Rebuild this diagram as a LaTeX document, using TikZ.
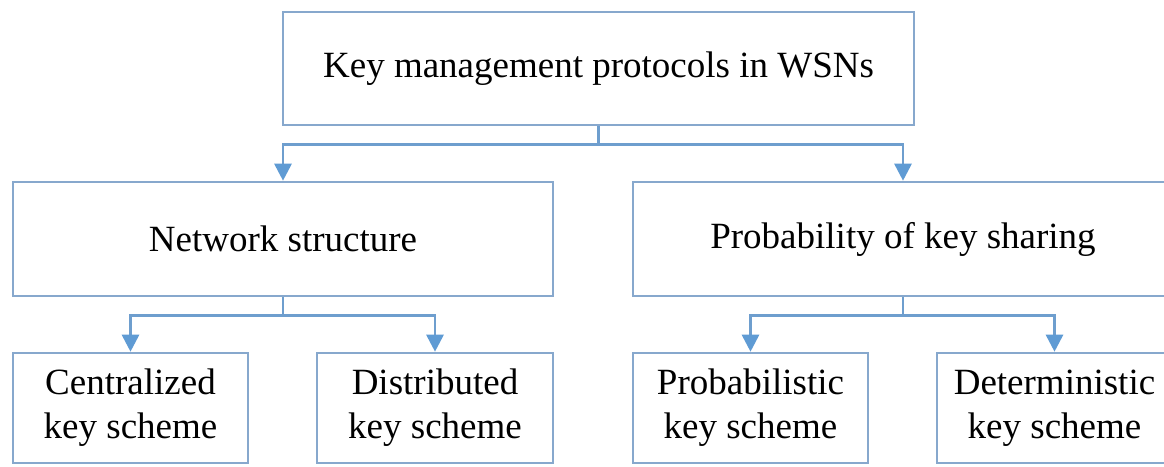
\documentclass[tikz,border=0pt]{standalone}
\usepackage{fontspec}
\setmainfont{Liberation Serif}
\usetikzlibrary{arrows.meta}
\definecolor{boxline}{RGB}{135,168,205}
\definecolor{connline}{RGB}{110,158,206}
\definecolor{tipcol}{RGB}{95,155,212}
\tikzset{
  box/.style={draw=boxline, line width=2.6pt, fill=white, inner sep=0pt,
    align=center, font=\fontsize{37}{44}\selectfont},
  conn/.style={draw=connline, line width=2.8pt,
    -{Triangle[width=17pt,length=17pt,color=tipcol]}},
}
\begin{document}
\begin{tikzpicture}[x=1pt,y=-1pt]
\useasboundingbox (0,0) rectangle (1164,466);
\fill[white] (0,0) rectangle (1164,466);
\clip (0,0) rectangle (1164,466);
\node[box, minimum width=631pt, minimum height=113pt] (top) at (598.5,68.5) {Key management protocols in WSNs};
\node[box, minimum width=540pt, minimum height=114pt] (ns) at (283,239) {Network structure};
\node[box, minimum width=540pt, minimum height=114pt] (pks) at (903,239) {Probability of key sharing};
\node[box, minimum width=235pt, minimum height=110pt] (cks) at (130.5,408) {Centralized\\key scheme};
\node[box, minimum width=236pt, minimum height=110pt] (dks) at (435,408) {Distributed\\key scheme};
\node[box, minimum width=235pt, minimum height=110pt] (pbk) at (750.5,408) {Probabilistic\\key scheme};
\node[box, minimum width=235pt, minimum height=110pt] (dtk) at (1054.5,408) {Deterministic\\key scheme};
\draw[conn] (top.south) -- ++(0,18) -| (ns.north);
\draw[conn] (top.south) -- ++(0,18) -| (pks.north);
\draw[conn] (ns.south) -- ++(0,18) -| (cks.north);
\draw[conn] (ns.south) -- ++(0,18) -| (dks.north);
\draw[conn] (pks.south) -- ++(0,18) -| (pbk.north);
\draw[conn] (pks.south) -- ++(0,18) -| (dtk.north);
\end{tikzpicture}
\end{document}
